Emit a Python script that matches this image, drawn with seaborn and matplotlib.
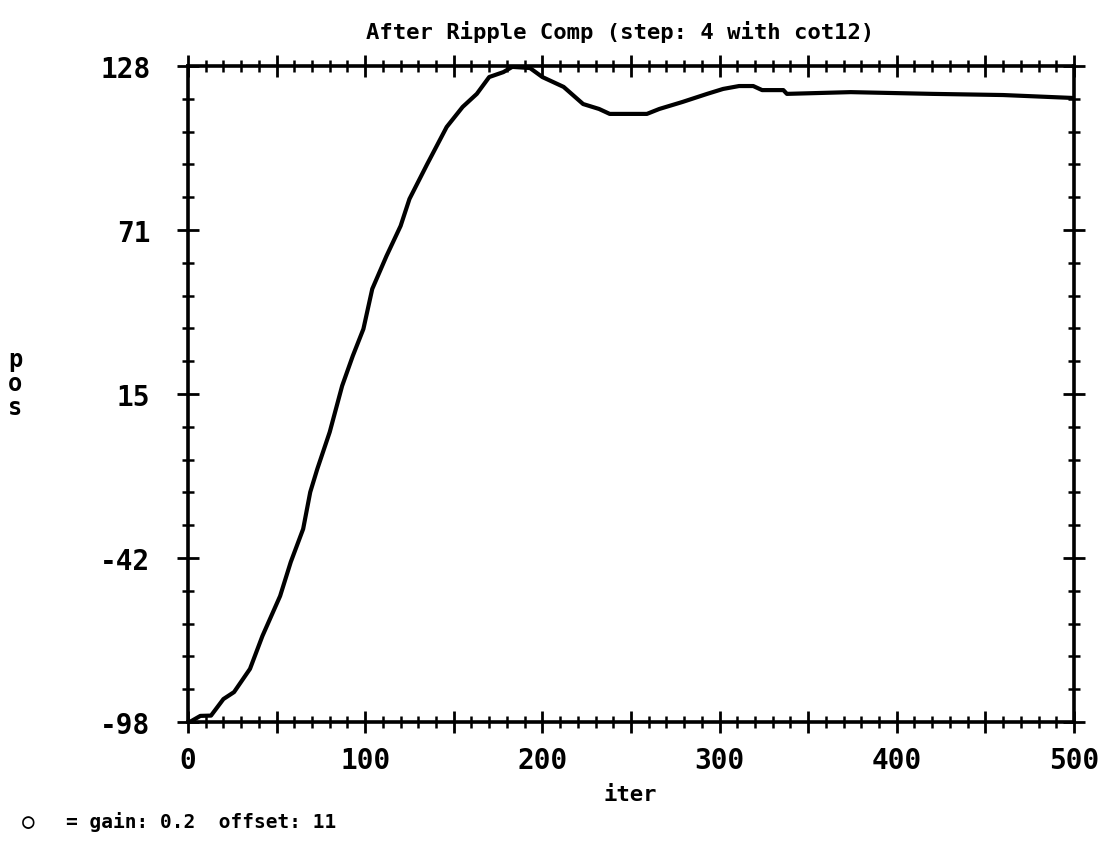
import pandas as pd
import matplotlib.pyplot as plt
import seaborn as sns
import numpy as np
from matplotlib.ticker import MultipleLocator, AutoMinorLocator, FuncFormatter

# values
iters = [1, 7, 13, 20, 26, 35, 42, 52, 58, 65, 69, 73, 80, 87, 93, 99, 104, 112,
         120, 125, 135, 146, 155, 163, 170, 178, 183, 193, 200, 212, 223, 232, 238,
         259, 266, 279, 293, 302, 311, 319, 324, 336, 338, 374, 420, 460, 499]
pos = [-98.0, -95.9, -95.8, -90.1, -87.7, -79.7, -68.4, -54.6, -42.9, -31.5, -18.8,
       -10.8, 1.9, 17.8, 28.1, 37.4, 51.2, 62.5, 72.9, 82.2, 94.2, 107.0, 113.9,
       118.4, 124.2, 125.9, 127.7, 127.3, 124.2, 120.8, 114.9, 113.2, 111.5, 111.5,
       113.2, 115.6, 118.4, 120.1, 121.1, 121.1, 119.7, 119.7, 118.4, 119.0, 118.4,
       118.0, 117.0]

y_labels = ['-98', '-42', '15', '71', '128']
x_labels = [0, 100, 200, 300, 400, 500]

df = pd.DataFrame({'iter': iters, 'pos': pos})

sns.set_style('ticks')
plt.rcParams['font.family'] = ['DejaVu Sans Mono', 'DejaVu Sans']
plt.rcParams['font.weight'] = 'bold'
plt.rcParams['text.color'] = 'black'
plt.rcParams['xtick.color'] = 'black'
plt.rcParams['ytick.color'] = 'black'
plt.rcParams['axes.labelcolor'] = 'black'

fig = plt.figure(figsize=(10.98, 8.45), dpi=100)
ax = fig.add_axes([0.1712, 0.1444, 0.8069, 0.7763])

sns.lineplot(data=df, x='iter', y='pos', color='black', linewidth=3, ax=ax)

ax.set_xlim(0, 500)
ax.set_ylim(-98, 128)

# x ticks: long marks every 50, labels every 100, small marks every 10
ax.xaxis.set_major_locator(MultipleLocator(50))
ax.xaxis.set_major_formatter(FuncFormatter(lambda v, p: f'{int(v)}' if int(v) in x_labels else ''))
ax.xaxis.set_minor_locator(MultipleLocator(10))

yt = np.linspace(-98, 128, len(y_labels))
ax.set_yticks(yt)
ax.set_yticklabels(y_labels)
ax.yaxis.set_minor_locator(AutoMinorLocator(5))

ax.tick_params(axis='both', which='major', direction='inout', length=16, width=2,
               labelsize=20, top=True, right=True, color='black', labelcolor='black')
ax.tick_params(axis='both', which='minor', direction='inout', length=9, width=1.8,
               top=True, right=True, color='black')
ax.tick_params(axis='x', which='major', pad=9)
ax.tick_params(axis='y', which='major', pad=19)

for s in ax.spines.values():
    s.set_linewidth(2.6)
    s.set_color('black')

ax.set_xlabel('')
ax.set_ylabel('')
fig.text(0.565, 0.962, 'After Ripple Comp (step: 4 with cot12)', ha='center', va='center',
         fontsize=16, fontweight='bold')
fig.text(0.574, 0.059, 'iter', ha='center', va='center', fontsize=16, fontweight='bold')
fig.text(0.014, 0.545, 'p\no\ns', ha='center', va='center', fontsize=17,
         fontweight='bold', linespacing=1.0)
fig.text(0.020, 0.027, '○', ha='left', va='center', fontsize=15, fontweight='bold')
fig.text(0.060, 0.027, '= gain: 0.2  offset: 11', ha='left', va='center',
         fontsize=14, fontweight='bold')

plt.savefig('out.png', dpi=100)
plt.close()
